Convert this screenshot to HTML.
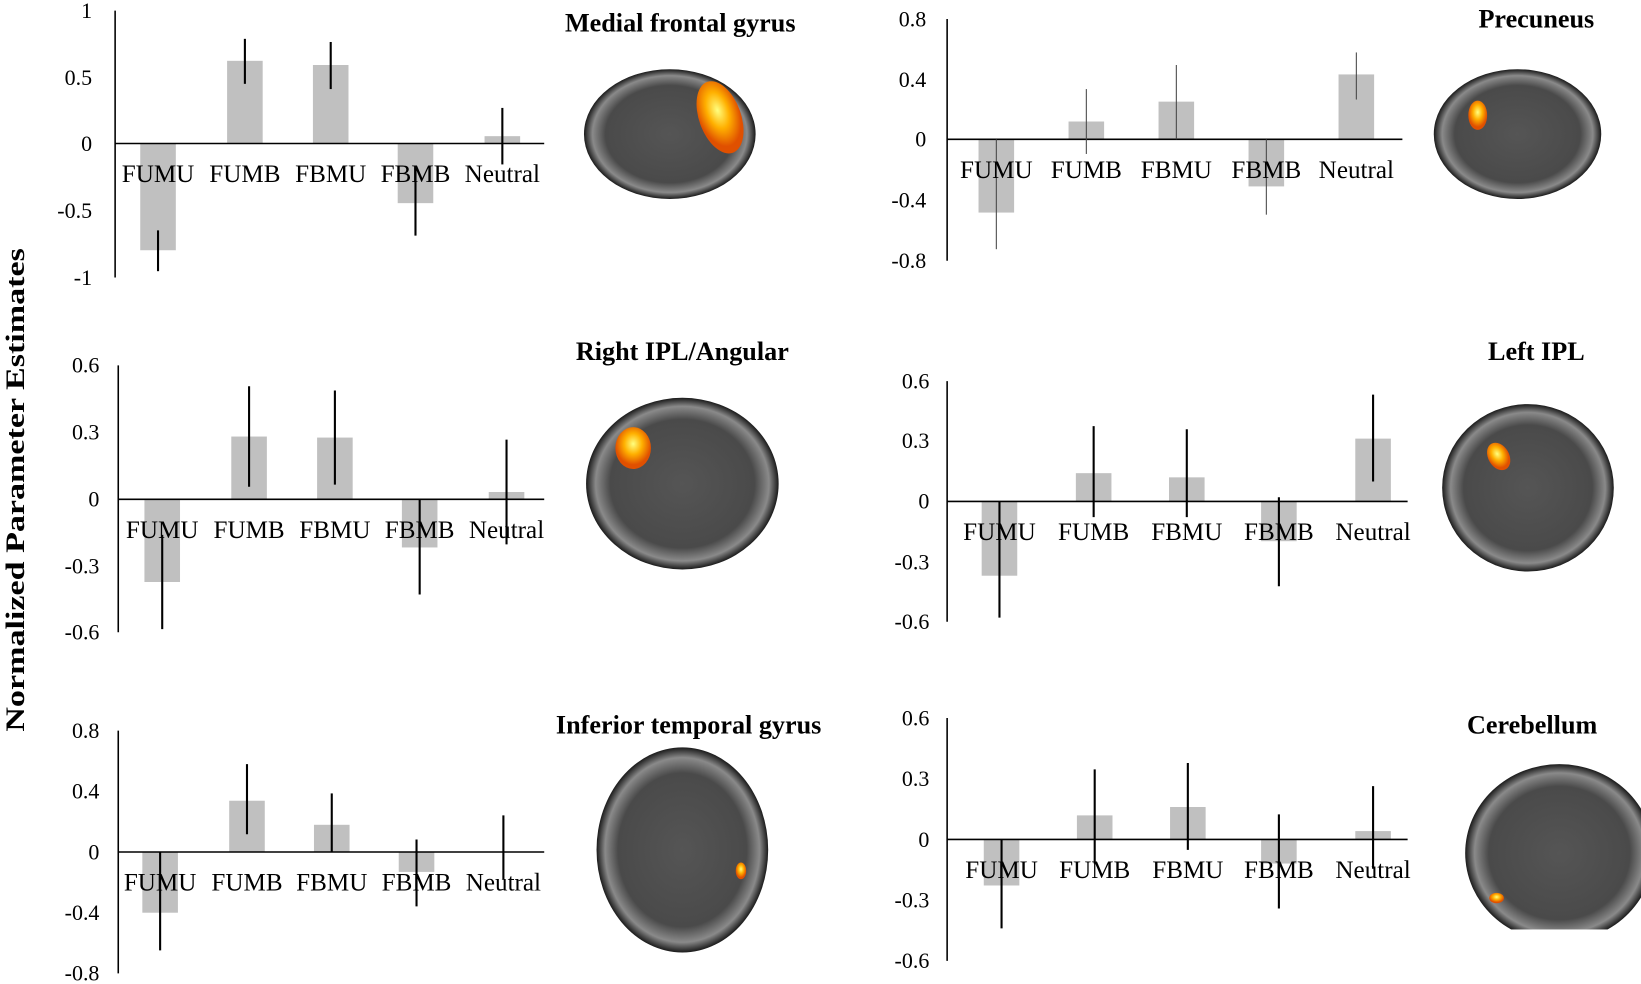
<!DOCTYPE html>
<html><head><meta charset="utf-8"><style>
html,body{margin:0;padding:0;background:#fff;}
svg{display:block;}
text{font-family:"Liberation Serif",serif;fill:#000;}
.t{font-size:24px;}
.ti{font-size:25px;font-weight:bold;}
.k{font-size:21px;}
</style></head><body>
<svg width="1641" height="984" viewBox="0 0 1568 940" xmlns="http://www.w3.org/2000/svg">
<defs>
<radialGradient id="brain" cx="50%" cy="50%" r="50%"><stop offset="0" stop-color="#555"/><stop offset="0.75" stop-color="#4a4a4a"/><stop offset="0.9" stop-color="#8a8a8a"/><stop offset="1" stop-color="#1a1a1a"/></radialGradient>
<radialGradient id="blob" cx="50%" cy="40%" r="50%"><stop offset="0" stop-color="#ffff80"/><stop offset="0.5" stop-color="#ffb000"/><stop offset="1" stop-color="#e05000"/></radialGradient>
</defs>
<text class="ti" transform="translate(23,468) rotate(-90)" text-anchor="middle" font-size="26" textLength="462" lengthAdjust="spacingAndGlyphs">Normalized Parameter Estimates</text>

<!-- Panel 1 -->
<g>
<g fill="#c0c0c0">
<rect x="134" y="137" width="34" height="102"/><rect x="217" y="58" width="34" height="79"/><rect x="299" y="62" width="34" height="75"/><rect x="380" y="137" width="34" height="57"/><rect x="463" y="130" width="34" height="7"/>
</g>
<line x1="110" y1="10" x2="110" y2="265" stroke="#000" stroke-width="1.5"/>
<line x1="110" y1="137" x2="520" y2="137" stroke="#000" stroke-width="1.5"/>
<g stroke="#000" stroke-width="2"><line x1="151" y1="220" x2="151" y2="259"/><line x1="234" y1="37" x2="234" y2="80"/><line x1="316" y1="40" x2="316" y2="85"/><line x1="397" y1="160" x2="397" y2="225"/><line x1="480" y1="103" x2="480" y2="157"/></g>
<g class="k" text-anchor="end"><text x="88" y="17">1</text><text x="88" y="81">0.5</text><text x="88" y="144">0</text><text x="88" y="208">-0.5</text><text x="88" y="272">-1</text></g>
<g class="t" text-anchor="middle"><text x="151" y="174">FUMU</text><text x="234" y="174">FUMB</text><text x="316" y="174">FBMU</text><text x="397" y="174">FBMB</text><text x="480" y="174">Neutral</text></g>
<text class="ti" x="650" y="30" text-anchor="middle">Medial frontal gyrus</text>
<ellipse cx="640" cy="128" rx="82" ry="62" fill="url(#brain)"/>
<ellipse cx="688" cy="112" rx="20" ry="36" fill="url(#blob)" transform="rotate(-20 688 112)"/>
</g>

<!-- Panel 2 -->
<g>
<g fill="#c0c0c0">
<rect x="935" y="133" width="34" height="70"/><rect x="1021" y="116" width="34" height="17"/><rect x="1107" y="97" width="34" height="36"/><rect x="1193" y="133" width="34" height="45"/><rect x="1279" y="71" width="34" height="62"/>
</g>
<line x1="905" y1="18" x2="905" y2="249" stroke="#000" stroke-width="1.5"/>
<line x1="905" y1="133" x2="1340" y2="133" stroke="#000" stroke-width="1.5"/>
<g stroke="#444" stroke-width="1"><line x1="952" y1="133" x2="952" y2="238"/><line x1="1038" y1="85" x2="1038" y2="147"/><line x1="1124" y1="62" x2="1124" y2="133"/><line x1="1210" y1="133" x2="1210" y2="205"/><line x1="1296" y1="50" x2="1296" y2="95"/></g>
<g class="k" text-anchor="end"><text x="885" y="25">0.8</text><text x="885" y="83">0.4</text><text x="885" y="140">0</text><text x="885" y="198">-0.4</text><text x="885" y="256">-0.8</text></g>
<g class="t" text-anchor="middle"><text x="952" y="170">FUMU</text><text x="1038" y="170">FUMB</text><text x="1124" y="170">FBMU</text><text x="1210" y="170">FBMB</text><text x="1296" y="170">Neutral</text></g>
<text class="ti" x="1468" y="26" text-anchor="middle">Precuneus</text>
<ellipse cx="1450" cy="128" rx="80" ry="62" fill="url(#brain)"/>
<ellipse cx="1412" cy="110" rx="9" ry="14" fill="url(#blob)"/>
</g>

<!-- Panel 3 -->
<g>
<g fill="#c0c0c0">
<rect x="138" y="477" width="34" height="79"/><rect x="221" y="417" width="34" height="60"/><rect x="303" y="418" width="34" height="59"/><rect x="384" y="477" width="34" height="46"/><rect x="467" y="470" width="34" height="7"/>
</g>
<line x1="113" y1="349" x2="113" y2="604" stroke="#000" stroke-width="1.5"/>
<line x1="113" y1="477" x2="520" y2="477" stroke="#000" stroke-width="1.5"/>
<g stroke="#000" stroke-width="2"><line x1="155" y1="511" x2="155" y2="601"/><line x1="238" y1="369" x2="238" y2="465"/><line x1="320" y1="373" x2="320" y2="463"/><line x1="401" y1="477" x2="401" y2="568"/><line x1="484" y1="420" x2="484" y2="520"/></g>
<g class="k" text-anchor="end"><text x="95" y="356">0.6</text><text x="95" y="420">0.3</text><text x="95" y="484">0</text><text x="95" y="548">-0.3</text><text x="95" y="611">-0.6</text></g>
<g class="t" text-anchor="middle"><text x="155" y="514">FUMU</text><text x="238" y="514">FUMB</text><text x="320" y="514">FBMU</text><text x="401" y="514">FBMB</text><text x="484" y="514">Neutral</text></g>
<text class="ti" x="652" y="344" text-anchor="middle">Right IPL/Angular</text>
<ellipse cx="652" cy="462" rx="92" ry="82" fill="url(#brain)"/>
<rect x="560" y="546" width="190" height="10" fill="#fff"/>
<ellipse cx="605" cy="428" rx="17" ry="20" fill="url(#blob)"/>
</g>

<!-- Panel 4 -->
<g>
<g fill="#c0c0c0">
<rect x="938" y="479" width="34" height="71"/><rect x="1028" y="452" width="34" height="27"/><rect x="1117" y="456" width="34" height="23"/><rect x="1205" y="479" width="34" height="38"/><rect x="1295" y="419" width="34" height="60"/>
</g>
<line x1="905" y1="364" x2="905" y2="594" stroke="#000" stroke-width="1.5"/>
<line x1="905" y1="479" x2="1345" y2="479" stroke="#000" stroke-width="1.5"/>
<g stroke="#000" stroke-width="2"><line x1="955" y1="479" x2="955" y2="590"/><line x1="1045" y1="407" x2="1045" y2="494"/><line x1="1134" y1="410" x2="1134" y2="494"/><line x1="1222" y1="475" x2="1222" y2="560"/><line x1="1312" y1="377" x2="1312" y2="460"/></g>
<g class="k" text-anchor="end"><text x="888" y="371">0.6</text><text x="888" y="428">0.3</text><text x="888" y="486">0</text><text x="888" y="544">-0.3</text><text x="888" y="601">-0.6</text></g>
<g class="t" text-anchor="middle"><text x="955" y="516">FUMU</text><text x="1045" y="516">FUMB</text><text x="1134" y="516">FBMU</text><text x="1222" y="516">FBMB</text><text x="1312" y="516">Neutral</text></g>
<text class="ti" x="1468" y="344" text-anchor="middle">Left IPL</text>
<ellipse cx="1460" cy="466" rx="82" ry="80" fill="url(#brain)"/>
<rect x="1370" y="546" width="190" height="20" fill="#fff"/>
<ellipse cx="1432" cy="436" rx="10" ry="14" fill="url(#blob)" transform="rotate(-30 1432 436)"/>
</g>

<!-- Panel 5 -->
<g>
<g fill="#c0c0c0">
<rect x="136" y="814" width="34" height="58"/><rect x="219" y="765" width="34" height="49"/><rect x="300" y="788" width="34" height="26"/><rect x="381" y="814" width="34" height="19"/>
</g>
<line x1="113" y1="698" x2="113" y2="930" stroke="#000" stroke-width="1.5"/>
<line x1="113" y1="814" x2="520" y2="814" stroke="#000" stroke-width="1.5"/>
<g stroke="#000" stroke-width="2"><line x1="153" y1="814" x2="153" y2="908"/><line x1="236" y1="730" x2="236" y2="797"/><line x1="317" y1="758" x2="317" y2="814"/><line x1="398" y1="802" x2="398" y2="866"/><line x1="481" y1="779" x2="481" y2="840"/></g>
<g class="k" text-anchor="end"><text x="95" y="705">0.8</text><text x="95" y="763">0.4</text><text x="95" y="821">0</text><text x="95" y="879">-0.4</text><text x="95" y="937">-0.8</text></g>
<g class="t" text-anchor="middle"><text x="153" y="851">FUMU</text><text x="236" y="851">FUMB</text><text x="317" y="851">FBMU</text><text x="398" y="851">FBMB</text><text x="481" y="851">Neutral</text></g>
<text class="ti" x="658" y="701" text-anchor="middle">Inferior temporal gyrus</text>
<ellipse cx="652" cy="812" rx="82" ry="98" fill="url(#brain)"/>
<ellipse cx="708" cy="832" rx="5" ry="8" fill="url(#blob)"/>
</g>

<!-- Panel 6 -->
<g>
<g fill="#c0c0c0">
<rect x="940" y="802" width="34" height="44"/><rect x="1029" y="779" width="34" height="23"/><rect x="1118" y="771" width="34" height="31"/><rect x="1205" y="802" width="34" height="23"/><rect x="1295" y="794" width="34" height="8"/>
</g>
<line x1="905" y1="686" x2="905" y2="918" stroke="#000" stroke-width="1.5"/>
<line x1="905" y1="802" x2="1345" y2="802" stroke="#000" stroke-width="1.5"/>
<g stroke="#000" stroke-width="2"><line x1="957" y1="802" x2="957" y2="887"/><line x1="1046" y1="735" x2="1046" y2="825"/><line x1="1135" y1="729" x2="1135" y2="812"/><line x1="1222" y1="778" x2="1222" y2="868"/><line x1="1312" y1="751" x2="1312" y2="830"/></g>
<g class="k" text-anchor="end"><text x="888" y="693">0.6</text><text x="888" y="751">0.3</text><text x="888" y="809">0</text><text x="888" y="867">-0.3</text><text x="888" y="925">-0.6</text></g>
<g class="t" text-anchor="middle"><text x="957" y="839">FUMU</text><text x="1046" y="839">FUMB</text><text x="1135" y="839">FBMU</text><text x="1222" y="839">FBMB</text><text x="1312" y="839">Neutral</text></g>
<text class="ti" x="1464" y="701" text-anchor="middle">Cerebellum</text>
<ellipse cx="1490" cy="815" rx="90" ry="85" fill="url(#brain)"/>
<rect x="1396" y="888" width="172" height="40" fill="#fff"/>
<ellipse cx="1430" cy="858" rx="7" ry="5" fill="url(#blob)"/>
</g>
</svg>
</body></html>
